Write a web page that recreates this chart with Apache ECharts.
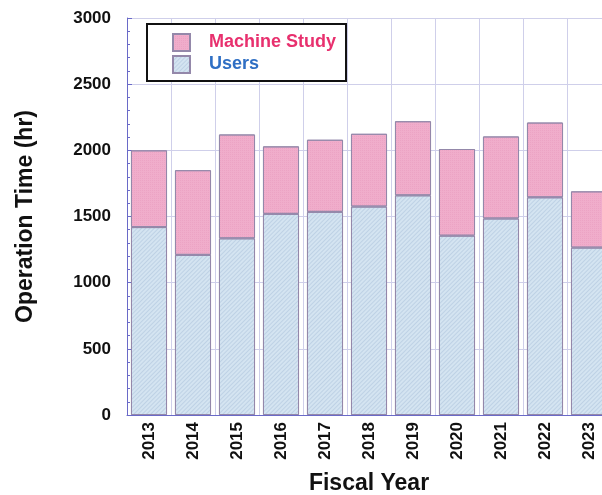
<!DOCTYPE html>
<html>
<head>
<meta charset="utf-8">
<script src="https://cdn.jsdelivr.net/npm/echarts@6/dist/echarts.min.js"></script>
<style>
html,body{margin:0;padding:0;background:#fff;}
#chart{width:602px;height:495px;}
</style>
</head>
<body>
<div id="chart"></div>
<script>
const years = ['2013','2014','2015','2016','2017','2018','2019','2020','2021','2022','2023'];
const users = [1420,1210,1335,1520,1535,1575,1660,1355,1485,1645,1265];
const machineStudy = [580,640,785,510,545,550,560,655,620,565,425];
const yTicks = [0,500,1000,1500,2000,2500,3000];

const FONT = "'Liberation Sans', Arial, sans-serif";
const chart = echarts.init(document.getElementById('chart'), null, {renderer:'canvas'});
const border = '#9488aa';
chart.setOption({
  animation:false,
  backgroundColor:'#fff',
  grid:{left:127, top:18, width:484, height:397, containLabel:false, outerBoundsMode:'none'},
  legend:{
    orient:'vertical',
    left:147, top:24,
    padding:[9,10,7,25],
    itemWidth:17, itemHeight:17, itemGap:3,
    icon:'rect',
    backgroundColor:'#fff',
    borderColor:'#111', borderWidth:2,
    textStyle:{fontFamily:FONT, fontWeight:'bold', fontSize:18, padding:[0,0,0,14]},
    data:[
      {name:'Machine Study', textStyle:{color:'#e8306e'}},
      {name:'Users', textStyle:{color:'#2f6fc4'}}
    ]
  },
  xAxis:{
    type:'category',
    data:years,
    name:'Fiscal Year',
    nameLocation:'middle',
    nameGap:57,
    nameTextStyle:{fontFamily:FONT, fontWeight:'bold', fontSize:23, color:'#111'},
    axisLine:{show:true, lineStyle:{color:'#6a6ac8', width:1}},
    axisTick:{show:true, inside:true, alignWithLabel:true, length:4, lineStyle:{color:'#6a6ac8'}},
    axisLabel:{rotate:90, fontFamily:FONT, fontWeight:'bold', fontSize:17, color:'#111', margin:7},
    splitLine:{show:true, lineStyle:{color:'#cfcfea', width:1}}
  },
  yAxis:{
    type:'value',
    min:0, max:3000, interval:500,
    name:'Operation Time (hr)',
    nameLocation:'middle',
    nameGap:90,
    nameTextStyle:{fontFamily:FONT, fontWeight:'bold', fontSize:23, color:'#111'},
    axisLine:{show:true, lineStyle:{color:'#6a6ac8', width:1}},
    axisTick:{show:true, inside:true, length:5, lineStyle:{color:'#6a6ac8'}},
    minorTick:{show:true, splitNumber:5, length:3, lineStyle:{color:'#6a6ac8'}},
    axisLabel:{fontFamily:FONT, fontWeight:'bold', fontSize:17, color:'#111', margin:16,
      formatter:function(v){return yTicks.indexOf(v)>=0?String(v):'';}},
    splitLine:{show:true, lineStyle:{color:'#cfcfea', width:1}}
  },
  series:[
    {
      name:'Users', type:'bar', stack:'t', data:users,
      barCategoryGap:'18%',
      itemStyle:{color:'#d4e4f1', borderColor:border, borderWidth:1,
        decal:{symbol:'rect', color:'rgba(150,175,205,0.35)', dashArrayX:[1,0], dashArrayY:[1,2], rotation:-Math.PI/4, symbolSize:1}}
    },
    {
      name:'Machine Study', type:'bar', stack:'t', data:machineStudy,
      barCategoryGap:'18%',
      itemStyle:{color:'#f0adcb', borderColor:border, borderWidth:1,
        decal:{symbol:'rect', color:'rgba(215,110,160,0.15)', dashArrayX:[1,1], dashArrayY:[1,1], rotation:0, symbolSize:1}}
    }
  ]
});
</script>
</body>
</html>
